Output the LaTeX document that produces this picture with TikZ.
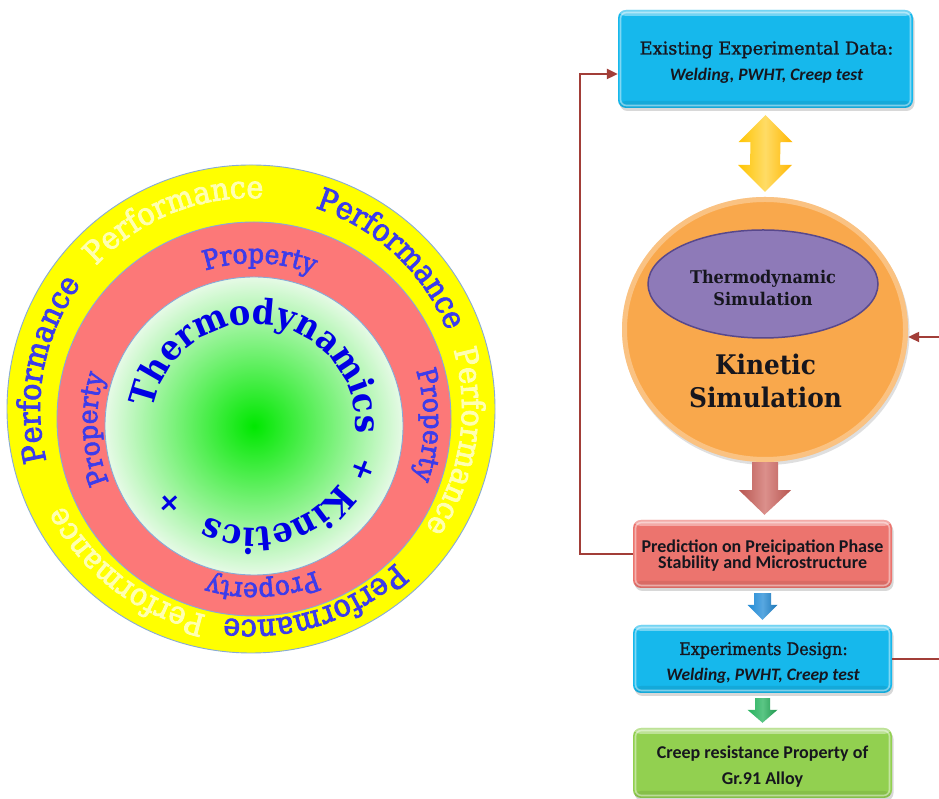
\documentclass[tikz,border=0pt]{standalone}
\usepackage{fontspec}
\setmainfont{DejaVu Serif}
\newfontfamily\cambr[FakeStretch=0.92]{DejaVu Serif}
\newfontfamily\ringfont[FakeStretch=0.92,FakeBold=2.6]{DejaVu Serif}
\newfontfamily\headfont[FakeBold=1.4]{DejaVu Serif}
\newfontfamily\headfontnarrow[FakeStretch=0.92,FakeBold=1.4]{DejaVu Serif}
\newfontfamily\calib{Carlito}
\usetikzlibrary{decorations.text,shapes.geometric,shadows,arrows.meta,calc}

\definecolor{ringyellow}{RGB}{255,255,0}
\definecolor{ringred}{RGB}{252,120,120}
\definecolor{ringline}{RGB}{135,170,215}
\definecolor{coregreen}{RGB}{0,232,0}
\definecolor{coreedge}{RGB}{230,250,230}
\definecolor{deepblue}{RGB}{0,0,228}
\definecolor{wordblue}{RGB}{60,60,235}
\definecolor{paleyellow}{RGB}{255,255,178}
\definecolor{boxblue}{RGB}{22,184,236}
\definecolor{boxred}{RGB}{236,116,110}
\definecolor{boxgreen}{RGB}{146,208,80}
\definecolor{simorange}{RGB}{249,168,76}
\definecolor{simpurple}{RGB}{142,122,184}
\definecolor{simpurpleedge}{RGB}{88,72,140}
\definecolor{linkred}{RGB}{162,62,56}
\definecolor{arrowgold}{RGB}{255,196,0}
\definecolor{arrowred}{RGB}{204,96,90}
\definecolor{arrowblue}{RGB}{32,138,214}
\definecolor{arrowgreen}{RGB}{36,178,92}
\definecolor{ink}{RGB}{22,22,30}

\newcommand{\perfFont}{\ringfont\fontsize{31}{31}\selectfont}
\newcommand{\propFont}{\ringfont\fontsize{27}{27}\selectfont}
\newcommand{\thermoFont}{\cambr\bfseries\fontsize{35}{35}\selectfont}
% word set along a clockwise arc: cx, cy, radius, start angle, end angle, font, colour, text
\newcommand{\arcword}[8]{%
  \path[decorate,decoration={text along path,text align=center,text color=#7,text={|#6|#8}}]
    ($(#1,#2)+(#4:#3)$) arc[start angle=#4,end angle=#5,radius=#3];}

\tikzset{
  ringedge/.style={draw=ringline,line width=0.9pt},
  panel/.style={rectangle,rounded corners=8pt,minimum width=259pt,inner sep=0pt,
    drop shadow={opacity=0.3,shadow xshift=1.5pt,shadow yshift=-3pt},
    path picture={
      \fill[white,opacity=0.4] (path picture bounding box.north west) rectangle ([yshift=-6pt]path picture bounding box.north east);
      \fill[black,opacity=0.08] (path picture bounding box.south west) rectangle ([yshift=7pt]path picture bounding box.south east);
      \draw[white,opacity=0.45,line width=1.6pt,rounded corners=6pt]
        ([shift={(2.5pt,2.5pt)}]path picture bounding box.south west) rectangle
        ([shift={(-2.5pt,-2.5pt)}]path picture bounding box.north east);}},
  link/.style={draw=linkred,line width=2.2pt,-{Triangle[length=11pt,width=10pt]}},
  serifline/.style={anchor=base,text=ink,font=\headfont\fontsize{17.7}{17.7}\selectfont},
  seriflinesmall/.style={anchor=base,text=ink,font=\headfontnarrow\fontsize{17.3}{17.3}\selectfont},
  italline/.style={anchor=base,text=ink,font=\calib\bfseries\itshape\fontsize{17.5}{17.5}\selectfont},
  sansline/.style={anchor=base,text=ink,font=\calib\bfseries\fontsize{18}{18}\selectfont},
  boldserif/.style={anchor=base,text=ink,font=\cambr\bfseries\fontsize{17.5}{17.5}\selectfont},
  bigserif/.style={anchor=base,text=ink,font=\cambr\bfseries\fontsize{27}{27}\selectfont},
  plusmark/.style={text=deepblue,font=\cambr\bfseries\fontsize{30}{30}\selectfont,inner sep=0pt},
}

\begin{document}
\begin{tikzpicture}[x=1pt,y=1pt]
\useasboundingbox (0,0) rectangle (939,799);
\clip (0,0) rectangle (939,799);
\fill[white] (0,0) rectangle (939,799);

% ---------- nested rings ----------
\fill[ringyellow] (251,390) circle[radius=244];
\draw[ringedge] (251,390) circle[radius=244];
\fill[ringred] (254,380) circle[radius=197];
\draw[ringedge] (254,380) circle[radius=197];
\shade[inner color=coregreen,outer color=coreedge] (254,373) circle[radius=149];
\draw[ringedge] (254,373) circle[radius=149];

% outer ring: Performance, alternating strong and pale
\arcword{251}{390}{211}{82}{12}{\perfFont}{wordblue}{Performance}
\arcword{251}{390}{211}{147}{77}{\perfFont}{paleyellow}{Performance}
\arcword{251}{390}{211}{204}{134}{\perfFont}{wordblue}{Performance}
\arcword{251}{390}{211}{26}{-44}{\perfFont}{paleyellow}{Performance}
\arcword{251}{390}{211}{-37}{-107}{\perfFont}{wordblue}{Performance}
\arcword{251}{390}{211}{-92}{-163}{\perfFont}{paleyellow}{Performance}

% middle ring: Property
\arcword{254}{377}{159}{123}{53}{\propFont}{wordblue}{Property}
\arcword{254}{377}{170}{34}{-36}{\propFont}{wordblue}{Property}
\arcword{254}{377}{161}{-52}{-122}{\propFont}{wordblue}{Property}
\arcword{254}{377}{157}{217.5}{147.5}{\propFont}{wordblue}{Property}

% core: Thermodynamics + Kinetics +
\arcword{254}{373}{102}{178}{-12}{\thermoFont}{deepblue}{Thermodynamics}
\arcword{254}{373}{102}{-25}{-126}{\thermoFont}{deepblue}{Kinetics}
\node[plusmark,rotate=-112] (plusright) at ($(254,373)+(-22:117)$) {+};
\node[plusmark,rotate=132.5] (plusleft) at ($(254,373)+(-137.5:114)$) {+};

% ---------- flow chart ----------
\node[panel,fill=boxblue,minimum width=295pt,minimum height=98pt] (exist) at (765.5,740) {};
\node[serifline] (exist-title) at ([xshift=1pt,yshift=4.5pt]exist.center) {Existing Experimental Data:};
\node[italline] (exist-list) at ([xshift=1pt,yshift=-22pt]exist.center) {Welding, PWHT, Creep test};

\node[ellipse,fill=simorange,minimum width=286pt,minimum height=265pt,inner sep=0pt,
  drop shadow={opacity=0.25,shadow xshift=1.5pt,shadow yshift=-3pt},
  path picture={\draw[white,opacity=0.3,line width=10pt]
    (path picture bounding box.center) ellipse[x radius=143,y radius=132.5];}] (kin) at (765,469.5) {};
\node[ellipse,fill=simpurple,draw=simpurpleedge,line width=1.5pt,minimum width=230pt,
  minimum height=108pt,inner sep=0pt] (thermo) at (763,515) {};
\node[boldserif] (thermo-a) at ([yshift=0.7pt]thermo.center) {Thermodynamic};
\node[boldserif] (thermo-b) at ([yshift=-22pt]thermo.center) {Simulation};
\node[bigserif] (kin-a) at ([xshift=0.5pt,yshift=-44.8pt]kin.center) {Kinetic};
\node[bigserif] (kin-b) at ([xshift=0.5pt,yshift=-78.5pt]kin.center) {Simulation};

\node[panel,fill=boxred,minimum height=68pt] (pred) at (762.5,245) {};
\node[sansline] (pred-a) at ([yshift=1.7pt]pred.center) {Prediction on Preicipation Phase};
\node[sansline] (pred-b) at ([yshift=-15pt]pred.center) {Stability and Microstructure};

\node[panel,fill=boxblue,minimum height=68pt] (design) at (762.5,140) {};
\node[seriflinesmall] (design-title) at ([xshift=1pt,yshift=4pt]design.center) {Experiments Design:};
\node[italline] (design-list) at ([xshift=0.5pt,yshift=-21.7pt]design.center) {Welding, PWHT, Creep test};

\node[panel,fill=boxgreen,minimum height=70pt] (creep) at (762.5,36) {};
\node[sansline] (creep-a) at ([yshift=4pt]creep.center) {Creep resistance Property of};
\node[sansline] (creep-b) at ([yshift=-22pt]creep.center) {Gr.91 Alloy};

% ---------- block arrows ----------
\coordinate (dtop) at ([yshift=-7pt]exist.south);
\coordinate (dbot) at ([yshift=5pt]kin.north);
\shade[left color=arrowgold,right color=arrowgold!80!orange,middle color=arrowgold!60!white]
  (dtop) -- ++(27,-27) -- ++(-12,0) -- ([xshift=15pt,yshift=27pt]dbot) -- ++(12,0) -- (dbot)
  -- ++(-27,27) -- ++(12,0) -- ([xshift=-15pt,yshift=-27pt]dtop) -- ++(-12,0) -- cycle;

\shade[left color=arrowred!90!black,right color=arrowred!90!black,middle color=arrowred!70!white]
  ([xshift=-13pt]kin.south) -- ([xshift=13pt]kin.south) -- ([xshift=13pt,yshift=-28pt]kin.south)
  -- ([xshift=26pt,yshift=-28pt]kin.south) -- ([xshift=2pt,yshift=5pt]pred.north)
  -- ([xshift=-26pt,yshift=-28pt]kin.south) -- ([xshift=-13pt,yshift=-28pt]kin.south) -- cycle;

\shade[left color=arrowblue,right color=arrowblue!85!black,middle color=arrowblue!75!white]
  ([xshift=-8.5pt,yshift=-5pt]pred.south) -- ([xshift=8.5pt,yshift=-5pt]pred.south)
  -- ([xshift=8.5pt,yshift=20pt]design.north) -- ([xshift=15pt,yshift=20pt]design.north)
  -- ([yshift=5pt]design.north) -- ([xshift=-15pt,yshift=20pt]design.north)
  -- ([xshift=-8.5pt,yshift=20pt]design.north) -- cycle;

\shade[left color=arrowgreen,right color=arrowgreen!85!black,middle color=arrowgreen!75!white]
  ([xshift=-7.5pt,yshift=-5pt]design.south) -- ([xshift=7.5pt,yshift=-5pt]design.south)
  -- ([xshift=7.5pt,yshift=18pt]creep.north) -- ([xshift=15pt,yshift=18pt]creep.north)
  -- ([yshift=5pt]creep.north) -- ([xshift=-15pt,yshift=18pt]creep.north)
  -- ([xshift=-7.5pt,yshift=18pt]creep.north) -- cycle;

% ---------- feedback links ----------
\draw[link] (pred.west) -- ++(-53,0) |- ([yshift=-15pt]exist.west);
\coordinate (rightrail) at (952,0);
\draw[link] (design.east) -- (design.east -| rightrail) |- ([yshift=-7.5pt]kin.east);
\end{tikzpicture}
\end{document}
